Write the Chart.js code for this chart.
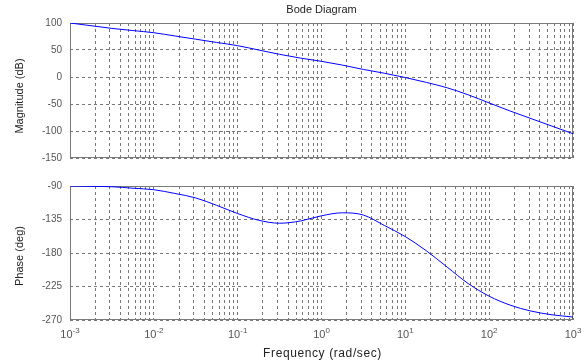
<!DOCTYPE html>
<html>
<head>
<meta charset="utf-8">
<script src="https://cdn.jsdelivr.net/npm/chart.js@4.4.1/dist/chart.umd.min.js"></script>
<style>
  html, body { margin: 0; padding: 0; background: #fff; }
  #wrap { position: relative; width: 587px; height: 362px; background: #fff; }
  #mag { position: absolute; left: 0; top: 0; width: 587px; height: 172px; }
  #phase { position: absolute; left: 0; top: 172px; width: 587px; height: 190px; }
</style>
</head>
<body>
<div id="wrap">
  <canvas id="mag" width="587" height="172"></canvas>
  <canvas id="phase" width="587" height="190"></canvas>
</div>
<script>
// frequencies (rad/sec), quarter decades
const freq = [0.001, 0.00178, 0.00316, 0.00562,
              0.01, 0.0178, 0.0316, 0.0562,
              0.1, 0.178, 0.316, 0.562,
              1, 1.78, 3.16, 5.62,
              10, 17.8, 31.6, 56.2,
              100, 178, 316, 562,
              1000];

// magnitude in dB
const magnitude = [100, 95, 90, 86,
                   82, 76, 70, 64,
                   58, 50, 42, 35,
                   29, 22, 14, 7,
                   -1, -10, -20, -33,
                   -48, -63, -77, -91,
                   -105];

// phase in degrees
const phase = [-90, -90.5, -91, -93,
               -95, -100, -106, -116,
               -127, -136, -140, -137,
               -130, -126, -129, -143,
               -158, -177, -199, -221,
               -238, -250, -258, -263,
               -266];

// tick labels
const magTicks = [-150, -100, -50, 0, 50, 100];
const phaseTicks = [-270, -225, -180, -135, -90];
const decades = [0.001, 0.01, 0.1, 1, 10, 100, 1000];
const decadeExp = ['-3', '-2', '-1', '0', '1', '2', '3'];

const FONT = "'Liberation Sans', Arial, Helvetica, sans-serif";
Chart.defaults.font.family = FONT;
const GRID = '#777';

// grid lines at every 1..9 x decade
const logGridTicks = () => {
  const t = [];
  for (let d = 0; d < decades.length - 1; d++) {
    for (let m = 1; m < 10; m++) t.push({ value: decades[d] * m });
  }
  t.push({ value: decades[decades.length - 1] });
  return t;
};

const xScale = (h) => ({
  type: 'logarithmic',
  min: decades[0],
  max: decades[decades.length - 1],
  afterBuildTicks: (s) => { s.ticks = logGridTicks(); },
  afterFit: (s) => { s.height = h; },
  ticks: { display: false },
  grid: { color: GRID, lineWidth: 1, drawTicks: false },
  border: { display: false, dash: [3, 3] }
});

const yScale = (ticks) => ({
  type: 'linear',
  min: ticks[0],
  max: ticks[ticks.length - 1],
  afterBuildTicks: (s) => { s.ticks = ticks.map(v => ({ value: v })); },
  afterFit: (s) => { s.width = 70; },
  ticks: { color: '#555', font: { family: FONT, size: 10 }, padding: 8 },
  grid: { color: GRID, lineWidth: 1, drawTicks: false },
  border: { display: false, dash: [3, 3] }
});

// solid frame round the plot area
const boxPlugin = {
  id: 'box',
  beforeDatasetsDraw(chart) {
    const a = chart.chartArea, c = chart.ctx;
    const l = Math.round(a.left), t = Math.round(a.top);
    const r = Math.round(a.right), b = Math.round(a.bottom);
    c.save();
    c.setLineDash([]);
    c.strokeStyle = '#7a7a7a';
    c.lineWidth = 1;
    c.strokeRect(l + 0.5, t + 0.5, r - l - 1, b - t - 1);
    c.restore();
  }
};

// axis titles and the diagram title, drawn as canvas text
const labelPlugin = {
  id: 'labels',
  afterDraw(chart, args, opts) {
    const c = chart.ctx, a = chart.chartArea;
    c.save();
    c.fillStyle = '#222';
    c.textAlign = 'center';
    c.textBaseline = 'middle';
    if (opts.title) {
      c.font = '11px ' + FONT;
      c.fillText(opts.title, (a.left + a.right) / 2, 10);
    }
    if (opts.xTitle) {
      c.font = '12px ' + FONT;
      c.letterSpacing = '0.6px';
      c.fillText(opts.xTitle, (a.left + a.right) / 2 + 1, 182);
      c.letterSpacing = '0px';
    }
    c.translate(20, opts.yMid);
    c.rotate(-Math.PI / 2);
    c.font = '11px ' + FONT;
    c.fillText(opts.yTitle, 0, 0);
    c.restore();
  }
};

// 10^n labels with raised exponent
const decadeLabelPlugin = {
  id: 'decadeLabels',
  afterDraw(chart) {
    const sx = chart.scales.x, c = chart.ctx;
    c.save();
    c.fillStyle = '#555';
    c.textBaseline = 'alphabetic';
    c.textAlign = 'left';
    decades.forEach((d, i) => {
      const x = sx.getPixelForValue(d);
      c.font = '11px ' + FONT;
      const w1 = c.measureText('10').width;
      c.font = '8px ' + FONT;
      const w2 = c.measureText(decadeExp[i]).width;
      const x0 = x - (w1 + w2) / 2;
      c.font = '11px ' + FONT;
      c.fillText('10', x0, 166);
      c.font = '8px ' + FONT;
      c.fillText(decadeExp[i], x0 + w1, 161);
    });
    c.restore();
  }
};

const lineSet = (vals) => ({
  data: freq.map((f, i) => ({ x: f, y: vals[i] })),
  borderColor: '#0000ff',
  borderWidth: 1,
  pointRadius: 0,
  fill: false,
  cubicInterpolationMode: 'monotone'
});

const common = {
  responsive: false,
  animation: false
};

new Chart(document.getElementById('mag'), {
  type: 'line',
  data: { datasets: [lineSet(magnitude)] },
  options: {
    ...common,
    plugins: {
      legend: { display: false }, tooltip: { enabled: false },
      labels: { title: 'Bode Diagram', yTitle: 'Magnitude (dB)', yMid: 96 }
    },
    layout: { padding: { top: 23, right: 14, left: 0, bottom: 0 } },
    scales: { x: xScale(7), y: yScale(magTicks) }
  },
  plugins: [boxPlugin, labelPlugin]
});

new Chart(document.getElementById('phase'), {
  type: 'line',
  data: { datasets: [lineSet(phase)] },
  options: {
    ...common,
    plugins: {
      legend: { display: false }, tooltip: { enabled: false },
      labels: { xTitle: 'Frequency (rad/sec)', yTitle: 'Phase (deg)', yMid: 84 }
    },
    layout: { padding: { top: 9, right: 14, left: 0, bottom: 0 } },
    scales: { x: xScale(42), y: yScale(phaseTicks) }
  },
  plugins: [boxPlugin, labelPlugin, decadeLabelPlugin]
});
</script>
</body>
</html>
